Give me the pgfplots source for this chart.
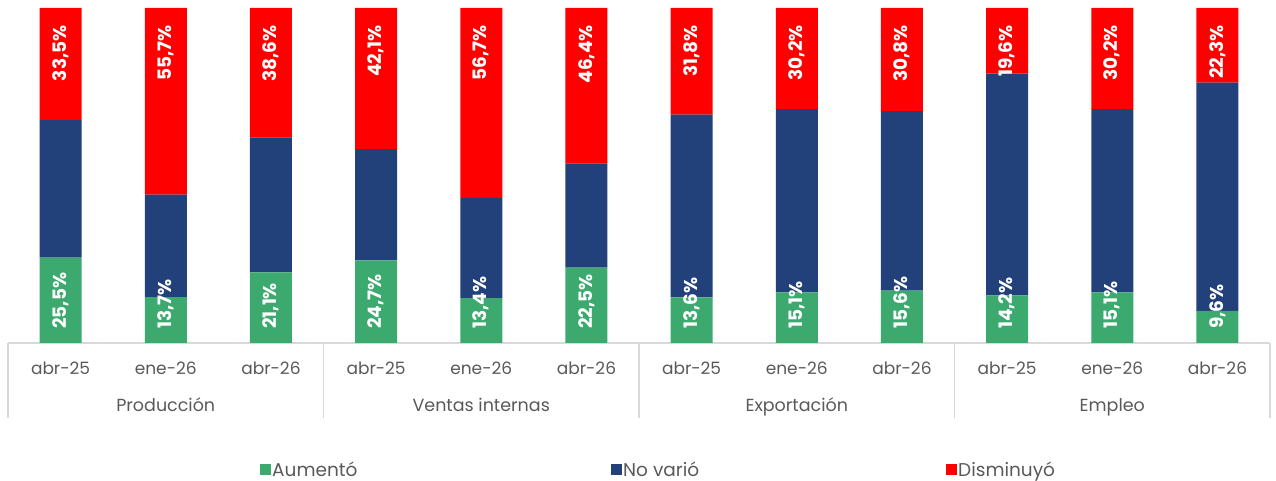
\documentclass[border=0pt]{standalone}
\usepackage{pgfplots}
\pgfplotsset{compat=1.18}
\usepackage{pgfplotstable}
\usepackage{fontspec}
\setmainfont{Poppins}
\definecolor{cgreen}{RGB}{60,170,110}
\definecolor{cblue}{RGB}{34,64,122}
\definecolor{cred}{RGB}{255,0,0}
\definecolor{ctext}{RGB}{89,89,89}
\definecolor{cline}{RGB}{217,217,217}
\pgfplotstableread{
x zero top g b r gl rl
0 0 100 25.5 41.0 33.5 25,5 33,5
1 0 100 13.7 30.6 55.7 13,7 55,7
2 0 100 21.1 40.3 38.6 21,1 38,6
3 0 100 24.7 33.2 42.1 24,7 42,1
4 0 100 13.4 29.9 56.7 13,4 56,7
5 0 100 22.5 31.1 46.4 22,5 46,4
6 0 100 13.6 54.6 31.8 13,6 31,8
7 0 100 15.1 54.7 30.2 15,1 30,2
8 0 100 15.6 53.6 30.8 15,6 30,8
9 0 100 14.2 66.2 19.6 14,2 19,6
10 0 100 15.1 54.7 30.2 15,1 30,2
11 0 100 9.6 68.1 22.3 9,6 22,3
}\datatable
\begin{document}
\begin{tikzpicture}
\useasboundingbox (0,0) rectangle (1276pt,481pt);
\begin{axis}[
  at={(8pt,138pt)}, anchor=south west,
  scale only axis, width=1262pt, height=335pt,
  ybar stacked, bar width=42pt,
  xmin=-0.5, xmax=11.5, ymin=0, ymax=100,
  clip=false,
  axis line style={draw=none},
  ytick=\empty,
  xtick={0,...,11},
  xticklabels={abr-25,ene-26,abr-26,abr-25,ene-26,abr-26,abr-25,ene-26,abr-26,abr-25,ene-26,abr-26},
  major tick length=0pt,
  xticklabel style={anchor=base, yshift=-32pt, text=ctext, font=\fontsize{17}{20}\selectfont},
  legend columns=3,
  legend style={draw=none, fill=none, inner sep=0pt, at={(0.1997,-0.379)}, anchor=west,
    font=\fontsize{18.5}{21}\selectfont, text=ctext,
    /tikz/every even column/.append style={column sep=0pt}},
  legend image code/.code={\fill[#1] (0pt,-5pt) rectangle (11pt,6pt);},
]
\addplot[fill=cgreen, draw=none] table[x=x, y=g] {\datatable};
\addlegendentry{\makebox[336pt][l]{\hspace{-1pt}Aumentó}}
\addplot[fill=cblue, draw=none] table[x=x, y=b] {\datatable};
\addlegendentry{\makebox[320pt][l]{\hspace{-1pt}No varió}}
\addplot[fill=cred, draw=none] table[x=x, y=r] {\datatable};
\addlegendentry{\hspace{-1pt}Disminuyó}
\draw[cline, line width=1.5pt] (axis cs:-0.5,0) -- (axis cs:11.5,0);
\draw[cline, line width=1.5pt] (axis cs:-0.5,0) -- (axis cs:-0.5,-22.4);
\draw[cline, line width=1.5pt] (axis cs:2.5,0) -- (axis cs:2.5,-22.4);
\draw[cline, line width=1.5pt] (axis cs:5.5,0) -- (axis cs:5.5,-22.4);
\draw[cline, line width=1.5pt] (axis cs:8.5,0) -- (axis cs:8.5,-22.4);
\draw[cline, line width=1.5pt] (axis cs:11.5,0) -- (axis cs:11.5,-22.4);
\node[text=ctext, font=\fontsize{17.5}{20}\selectfont, anchor=base] at ([yshift=-69pt]axis cs:1,0) {Producción};
\node[text=ctext, font=\fontsize{17.5}{20}\selectfont, anchor=base] at ([yshift=-69pt]axis cs:4,0) {Ventas internas};
\node[text=ctext, font=\fontsize{17.5}{20}\selectfont, anchor=base] at ([yshift=-69pt]axis cs:7,0) {Exportación};
\node[text=ctext, font=\fontsize{17.5}{20}\selectfont, anchor=base] at ([yshift=-69pt]axis cs:10,0) {Empleo};
\end{axis}
\begin{axis}[
  at={(8pt,138pt)}, anchor=south west,
  scale only axis, width=1262pt, height=335pt,
  xmin=-0.5, xmax=11.5, ymin=0, ymax=100,
  clip=false, hide axis,
]
\addplot[draw=none, mark=none, point meta=explicit symbolic,
  nodes near coords={\pgfplotspointmeta\%},
  every node near coord/.append style={yshift=14pt, rotate=90, anchor=west, inner sep=0pt, text=white, font=\fontsize{18.5}{20}\selectfont\bfseries}]
  table[x=x, y=zero, meta=gl] {\datatable};
\addplot[draw=none, mark=none, point meta=explicit symbolic,
  nodes near coords={\pgfplotspointmeta\%},
  every node near coord/.append style={yshift=-17pt, rotate=90, anchor=east, inner sep=0pt, text=white, font=\fontsize{18.5}{20}\selectfont\bfseries}]
  table[x=x, y=top, meta=rl] {\datatable};
\end{axis}
\end{tikzpicture}
\end{document}
